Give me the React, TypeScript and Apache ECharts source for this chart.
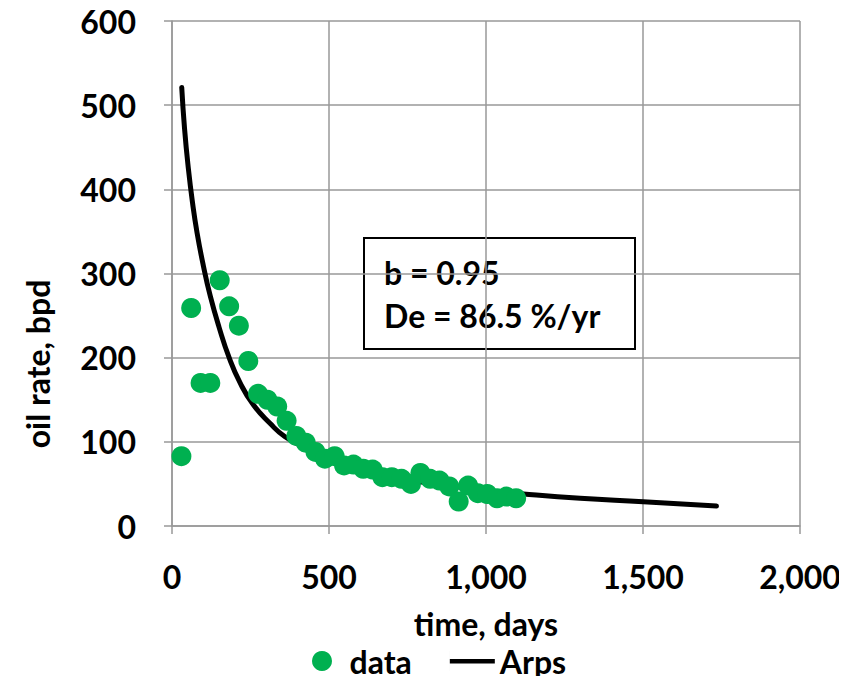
import React, { useEffect, useRef } from "react";
import * as echarts from "echarts";

const dataDays = [30, 61, 91, 122, 152, 182, 213, 243, 274, 304, 335, 365, 396, 426, 457, 487, 518, 548, 578, 609, 639, 670, 700, 731, 761, 791, 822, 852, 883, 913, 943, 974, 1004, 1035, 1065, 1096];
const dataRates = [83, 259, 170, 170, 292, 261, 238, 196, 157, 150, 142, 125, 107, 99, 88, 80, 83, 72, 73, 68, 67, 58, 58, 56, 50, 63, 56, 54, 47, 29, 48, 39, 38, 33, 35, 33];

const arpsDays = [31, 40, 52, 65, 80, 100, 122, 150, 182, 217, 259, 312, 360, 420, 500, 600, 700, 800, 900, 1000, 1119, 1300, 1501, 1734];
const arpsRates = [521, 472, 425, 385, 348, 309, 273, 236, 200, 170, 144, 122, 106, 94, 80, 68, 59, 52, 47, 42, 38, 33, 28.9, 23.7];

const xTicks = [0, 500, 1000, 1500, 2000];
const yTicks = [0, 100, 200, 300, 400, 500, 600];

const xTitle = "time, days";
const yTitle = "oil rate, bpd";
const annotationLines = ["b = 0.95", "De = 86.5 %/yr"];

const FONT = "Lato";
const GREEN = "#00B050";
const GRID = "#999999";

export default function App() {
  const ref = useRef<HTMLDivElement>(null);
  useEffect(() => {
    if (!ref.current) return;
    const chart = echarts.init(ref.current, undefined, { renderer: "svg" });
    const scatterData = dataDays.map((d, i) => [d, dataRates[i]]);
    const lineData = arpsDays.map((d, i) => [d, arpsRates[i]]);
    const textStyle = { fontFamily: FONT, fontWeight: "bold" as const, fontSize: 32, color: "#000" };
    chart.setOption({
      animation: false,
      backgroundColor: "#ffffff",
      grid: { left: 172, right: 47, top: 21, bottom: 158, containLabel: false },
      xAxis: {
        type: "value",
        min: xTicks[0],
        max: xTicks[xTicks.length - 1],
        interval: 500,
        name: xTitle,
        nameLocation: "middle",
        nameGap: 84,
        nameTextStyle: { ...textStyle, lineHeight: 26 },
        axisLine: { show: true, lineStyle: { color: GRID, width: 1.5 } },
        axisTick: { show: true, length: 8, lineStyle: { color: GRID, width: 1.5 } },
        splitLine: { show: true, lineStyle: { color: GRID, width: 1.5 } },
        axisLabel: {
          ...textStyle,
          margin: 34,
          formatter: (v: number) => v.toLocaleString("en-US"),
        },
      },
      yAxis: {
        type: "value",
        min: yTicks[0],
        max: yTicks[yTicks.length - 1],
        interval: 100,
        axisLine: { show: true, lineStyle: { color: GRID, width: 1.5 } },
        axisTick: { show: true, length: 8, lineStyle: { color: GRID, width: 1.5 } },
        splitLine: { show: true, lineStyle: { color: GRID, width: 1.5 } },
        axisLabel: { ...textStyle, margin: 36 },
      },
      legend: {
        left: 312,
        top: 644,
        itemWidth: 45,
        itemHeight: 20,
        itemGap: 38,
        padding: 0,
        textStyle: { ...textStyle, lineHeight: 34 },
        data: [
          { name: "data", icon: "circle" },
          { name: "Arps", icon: "path://M0,0 H0.01 V20 H0 Z M0,8 H45 V12.5 H0 Z" },
        ],
      },
      series: [
        {
          name: "data",
          type: "scatter",
          data: scatterData,
          symbol: "circle",
          symbolSize: 20,
          itemStyle: { color: GREEN, opacity: 1 },
          z: 3,
        },
        {
          name: "Arps",
          type: "line",
          data: lineData,
          symbol: "none",
          smooth: 0.5,
          lineStyle: { color: "#000", width: 5, cap: "round" },
          itemStyle: { color: "#000" },
          z: 2,
        },
      ],
      graphic: [
        {
          type: "text",
          x: 37,
          y: 364,
          rotation: Math.PI / 2,
          style: { text: yTitle, font: `bold 32px ${FONT}`, fill: "#000", align: "center", verticalAlign: "middle" },
        },
        {
          type: "group",
          left: 363,
          top: 237,
          z: 100,
          children: [
            {
              type: "rect",
              shape: { x: 0, y: 0, width: 271, height: 111 },
              style: { fill: "#fff", stroke: "#000", lineWidth: 2 },
            },
            {
              type: "text",
              x: 20,
              y: 34,
              style: { text: annotationLines[0], font: `bold 32px ${FONT}`, fill: "#000", verticalAlign: "middle" },
            },
            {
              type: "text",
              x: 20,
              y: 77,
              style: { text: annotationLines[1], font: `bold 32px ${FONT}`, fill: "#000", verticalAlign: "middle" },
            },
          ],
        },
      ],
    });
    return () => chart.dispose();
  }, []);
  return <div ref={ref} style={{ width: 847, height: 684, margin: -8 }} />;
}
